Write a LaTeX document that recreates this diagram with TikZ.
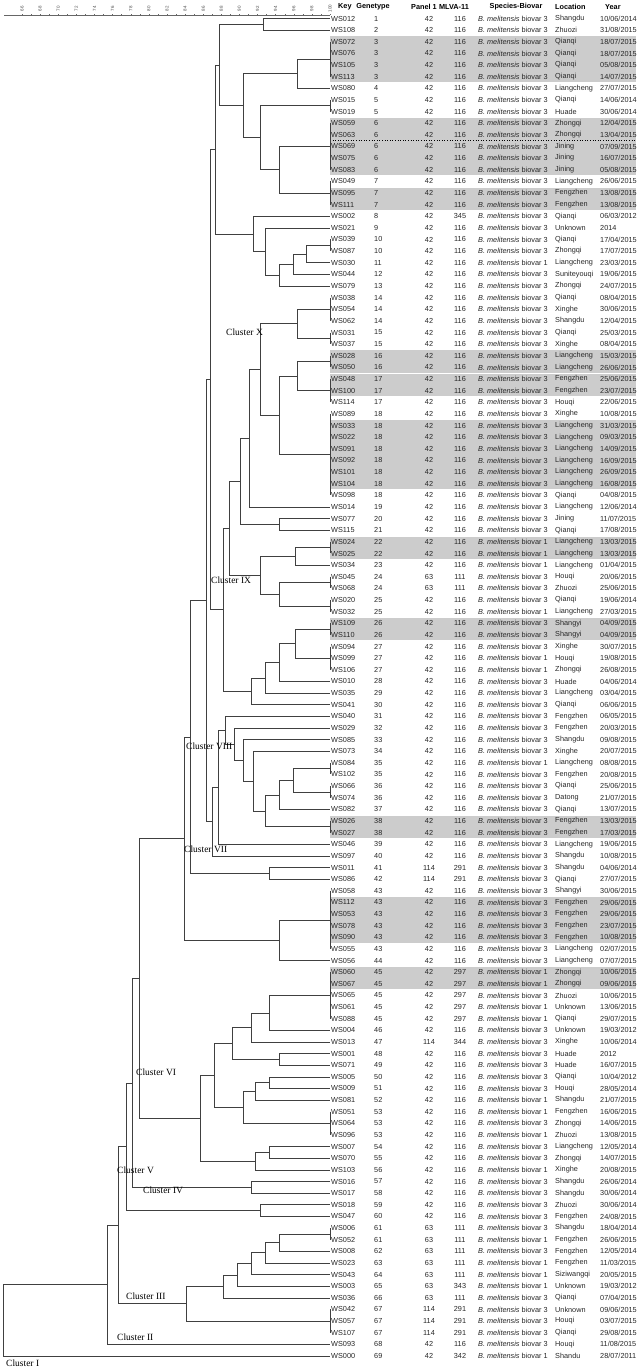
\documentclass[tikz,border=0pt]{standalone}
\usepackage{fontspec}
\setmainfont{Liberation Serif}
\newfontfamily\tabfont{Liberation Sans}
\tikzset{
 tx/.style={font=\tabfont\fontsize{7.3}{8}\selectfont, inner sep=0pt, text=black!85},
 hd/.style={font=\tabfont\bfseries\fontsize{7.3}{8}\selectfont, inner sep=0pt},
 tree/.style={draw=black!75, line width=0.6pt},
 clab/.style={font=\fontsize{9.5}{10}\selectfont, inner sep=0pt, anchor=west},
 shadebox/.style={fill=black!20},
 axisline/.style={draw=black!60, line width=0.4pt},
 axlab/.style={font=\tabfont\fontsize{4.5}{5}\selectfont, inner sep=0pt, rotate=90, text=black!70},
}
\newcommand\RY[1]{6.87+11.63*#1}
\newcommand\trow[8]{%
  \node[tx,anchor=west] (k#1) at (331,{\RY{#1}}) {#2};
  \node[tx,anchor=west] (g#1) at (374,{\RY{#1}}) {#3};
  \node[tx] (p#1) at (429,{\RY{#1}}) {#4};
  \node[tx] (m#1) at (460,{\RY{#1}}) {#5};
  \node[tx,anchor=west] (s#1) at (478,{\RY{#1}}) {\textit{B. melitensis} biovar #6};
  \node[tx,anchor=west] (l#1) at (555,{\RY{#1}}) {#7};
  \node[tx,anchor=west] (y#1) at (600,{\RY{#1}}) {#8};}
\newcommand\shd[2]{\fill[shadebox] (330,{6.87+11.63*(#1-0.5)+0.5}) rectangle (636,{6.87+11.63*(#2+0.5)-0.5});}
\newcommand\J[5]{\draw[tree] (#2,{\RY{#3}}) -- (#1,{\RY{#3}}) -- (#1,{\RY{#5}}) -- (#4,{\RY{#5}});}
\newcommand\G[2]{\draw[tree] (355,{\RY{#1}}) -- (355,{\RY{#2}});}
\begin{document}
\begin{tikzpicture}[x=1pt,y=-1pt]
\useasboundingbox (0,0) rectangle (638,1368);
% shading
\shd{3}{6}\shd{10}{14}\shd{16}{17}\shd{30}{31}\shd{32}{33}\shd{36}{41}
\shd{46}{47}\shd{53}{54}\shd{70}{71}\shd{77}{80}\shd{83}{84}
\draw[dotted, line width=0.6pt] (330,{\RY{11.5}}) -- (636,{\RY{11.5}});
% axis
\draw[axisline] (4,15) -- (330,15);
\foreach \s in {66,...,100} \draw[axisline] ({22+(\s-66)*9.06},15) -- ++(0,-1.5);
\foreach \s in {66,68,...,100} \node[axlab] at ({22+(\s-66)*9.06},8.5) {\s};
% header
\node[hd,anchor=west] (hk) at (338,7) {Key};
\node[hd] (hg) at (373,7) {Genetype};
\node[hd] (hp) at (424,7) {Panel 1};
\node[hd] (hm) at (454,7) {MLVA-11};
\node[hd] (hs) at (516,7) {Species-Biovar};
\node[hd,anchor=west] (hl) at (555,7) {Location};
\node[hd,anchor=west] (hy) at (605,7) {Year};
% table
\trow{1}{WS012}{1}{42}{116}{3}{Shangdu}{10/06/2014}
\trow{2}{WS108}{2}{42}{116}{3}{Zhuozi}{31/08/2015}
\trow{3}{WS072}{3}{42}{116}{3}{Qianqi}{18/07/2015}
\trow{4}{WS076}{3}{42}{116}{3}{Qianqi}{18/07/2015}
\trow{5}{WS105}{3}{42}{116}{3}{Qianqi}{05/08/2015}
\trow{6}{WS113}{3}{42}{116}{3}{Qianqi}{14/07/2015}
\trow{7}{WS080}{4}{42}{116}{3}{Liangcheng}{27/07/2015}
\trow{8}{WS015}{5}{42}{116}{3}{Qianqi}{14/06/2014}
\trow{9}{WS019}{5}{42}{116}{3}{Huade}{30/06/2014}
\trow{10}{WS059}{6}{42}{116}{3}{Zhongqi}{12/04/2015}
\trow{11}{WS063}{6}{42}{116}{3}{Zhongqi}{13/04/2015}
\trow{12}{WS069}{6}{42}{116}{3}{Jining}{07/09/2015}
\trow{13}{WS075}{6}{42}{116}{3}{Jining}{16/07/2015}
\trow{14}{WS083}{6}{42}{116}{3}{Jining}{05/08/2015}
\trow{15}{WS049}{7}{42}{116}{3}{Liangcheng}{26/06/2015}
\trow{16}{WS095}{7}{42}{116}{3}{Fengzhen}{13/08/2015}
\trow{17}{WS111}{7}{42}{116}{3}{Fengzhen}{13/08/2015}
\trow{18}{WS002}{8}{42}{345}{3}{Qianqi}{06/03/2012}
\trow{19}{WS021}{9}{42}{116}{3}{Unknown}{2014}
\trow{20}{WS039}{10}{42}{116}{3}{Qianqi}{17/04/2015}
\trow{21}{WS087}{10}{42}{116}{3}{Zhongqi}{17/07/2015}
\trow{22}{WS030}{11}{42}{116}{1}{Liangcheng}{23/03/2015}
\trow{23}{WS044}{12}{42}{116}{3}{Suniteyouqi}{19/06/2015}
\trow{24}{WS079}{13}{42}{116}{3}{Zhongqi}{24/07/2015}
\trow{25}{WS038}{14}{42}{116}{3}{Qianqi}{08/04/2015}
\trow{26}{WS054}{14}{42}{116}{3}{Xinghe}{30/06/2015}
\trow{27}{WS062}{14}{42}{116}{3}{Shangdu}{12/04/2015}
\trow{28}{WS031}{15}{42}{116}{3}{Qianqi}{25/03/2015}
\trow{29}{WS037}{15}{42}{116}{3}{Xinghe}{08/04/2015}
\trow{30}{WS028}{16}{42}{116}{3}{Liangcheng}{15/03/2015}
\trow{31}{WS050}{16}{42}{116}{3}{Liangcheng}{26/06/2015}
\trow{32}{WS048}{17}{42}{116}{3}{Fengzhen}{25/06/2015}
\trow{33}{WS100}{17}{42}{116}{3}{Fengzhen}{23/07/2015}
\trow{34}{WS114}{17}{42}{116}{3}{Houqi}{22/06/2015}
\trow{35}{WS089}{18}{42}{116}{3}{Xinghe}{10/08/2015}
\trow{36}{WS033}{18}{42}{116}{3}{Liangcheng}{31/03/2015}
\trow{37}{WS022}{18}{42}{116}{3}{Liangcheng}{09/03/2015}
\trow{38}{WS091}{18}{42}{116}{3}{Liangcheng}{14/09/2015}
\trow{39}{WS092}{18}{42}{116}{3}{Liangcheng}{16/09/2015}
\trow{40}{WS101}{18}{42}{116}{3}{Liangcheng}{26/09/2015}
\trow{41}{WS104}{18}{42}{116}{3}{Liangcheng}{16/08/2015}
\trow{42}{WS098}{18}{42}{116}{3}{Qianqi}{04/08/2015}
\trow{43}{WS014}{19}{42}{116}{3}{Liangcheng}{12/06/2014}
\trow{44}{WS077}{20}{42}{116}{3}{Jining}{11/07/2015}
\trow{45}{WS115}{21}{42}{116}{3}{Qianqi}{17/08/2015}
\trow{46}{WS024}{22}{42}{116}{1}{Liangcheng}{13/03/2015}
\trow{47}{WS025}{22}{42}{116}{1}{Liangcheng}{13/03/2015}
\trow{48}{WS034}{23}{42}{116}{1}{Liangcheng}{01/04/2015}
\trow{49}{WS045}{24}{63}{111}{3}{Houqi}{20/06/2015}
\trow{50}{WS068}{24}{63}{111}{3}{Zhuozi}{25/06/2015}
\trow{51}{WS020}{25}{42}{116}{3}{Qianqi}{19/06/2014}
\trow{52}{WS032}{25}{42}{116}{1}{Liangcheng}{27/03/2015}
\trow{53}{WS109}{26}{42}{116}{3}{Shangyi}{04/09/2015}
\trow{54}{WS110}{26}{42}{116}{3}{Shangyi}{04/09/2015}
\trow{55}{WS094}{27}{42}{116}{3}{Xinghe}{30/07/2015}
\trow{56}{WS099}{27}{42}{116}{1}{Houqi}{19/08/2015}
\trow{57}{WS106}{27}{42}{116}{1}{Zhongqi}{26/08/2015}
\trow{58}{WS010}{28}{42}{116}{3}{Huade}{04/06/2014}
\trow{59}{WS035}{29}{42}{116}{3}{Liangcheng}{03/04/2015}
\trow{60}{WS041}{30}{42}{116}{3}{Qianqi}{06/06/2015}
\trow{61}{WS040}{31}{42}{116}{3}{Fengzhen}{06/05/2015}
\trow{62}{WS029}{32}{42}{116}{3}{Fengzhen}{20/03/2015}
\trow{63}{WS085}{33}{42}{116}{3}{Shangdu}{09/08/2015}
\trow{64}{WS073}{34}{42}{116}{3}{Xinghe}{20/07/2015}
\trow{65}{WS084}{35}{42}{116}{1}{Liangcheng}{08/08/2015}
\trow{66}{WS102}{35}{42}{116}{3}{Fengzhen}{20/08/2015}
\trow{67}{WS066}{36}{42}{116}{3}{Qianqi}{25/06/2015}
\trow{68}{WS074}{36}{42}{116}{3}{Datong}{21/07/2015}
\trow{69}{WS082}{37}{42}{116}{3}{Qianqi}{13/07/2015}
\trow{70}{WS026}{38}{42}{116}{3}{Fengzhen}{13/03/2015}
\trow{71}{WS027}{38}{42}{116}{3}{Fengzhen}{17/03/2015}
\trow{72}{WS046}{39}{42}{116}{3}{Liangcheng}{19/06/2015}
\trow{73}{WS097}{40}{42}{116}{3}{Shangdu}{10/08/2015}
\trow{74}{WS011}{41}{114}{291}{3}{Shangdu}{04/06/2014}
\trow{75}{WS086}{42}{114}{291}{3}{Qianqi}{27/07/2015}
\trow{76}{WS058}{43}{42}{116}{3}{Shangyi}{30/06/2015}
\trow{77}{WS112}{43}{42}{116}{3}{Fengzhen}{29/06/2015}
\trow{78}{WS053}{43}{42}{116}{3}{Fengzhen}{29/06/2015}
\trow{79}{WS078}{43}{42}{116}{3}{Fengzhen}{23/07/2015}
\trow{80}{WS090}{43}{42}{116}{3}{Fengzhen}{10/08/2015}
\trow{81}{WS055}{43}{42}{116}{3}{Liangcheng}{02/07/2015}
\trow{82}{WS056}{44}{42}{116}{3}{Liangcheng}{07/07/2015}
\trow{83}{WS060}{45}{42}{297}{1}{Zhongqi}{10/06/2015}
\trow{84}{WS067}{45}{42}{297}{1}{Zhongqi}{09/06/2015}
\trow{85}{WS065}{45}{42}{297}{3}{Zhuozi}{10/06/2015}
\trow{86}{WS061}{45}{42}{297}{1}{Unknown}{13/06/2015}
\trow{87}{WS088}{45}{42}{297}{1}{Qianqi}{29/07/2015}
\trow{88}{WS004}{46}{42}{116}{3}{Unknown}{19/03/2012}
\trow{89}{WS013}{47}{114}{344}{3}{Xinghe}{10/06/2014}
\trow{90}{WS001}{48}{42}{116}{3}{Huade}{2012}
\trow{91}{WS071}{49}{42}{116}{3}{Huade}{16/07/2015}
\trow{92}{WS005}{50}{42}{116}{3}{Qianqi}{10/04/2012}
\trow{93}{WS009}{51}{42}{116}{3}{Houqi}{28/05/2014}
\trow{94}{WS081}{52}{42}{116}{1}{Shangdu}{21/07/2015}
\trow{95}{WS051}{53}{42}{116}{1}{Fengzhen}{16/06/2015}
\trow{96}{WS064}{53}{42}{116}{3}{Zhongqi}{14/06/2015}
\trow{97}{WS096}{53}{42}{116}{1}{Zhuozi}{13/08/2015}
\trow{98}{WS007}{54}{42}{116}{3}{Liangcheng}{12/05/2014}
\trow{99}{WS070}{55}{42}{116}{3}{Zhongqi}{14/07/2015}
\trow{100}{WS103}{56}{42}{116}{1}{Xinghe}{20/08/2015}
\trow{101}{WS016}{57}{42}{116}{3}{Shangdu}{26/06/2014}
\trow{102}{WS017}{58}{42}{116}{3}{Shangdu}{30/06/2014}
\trow{103}{WS018}{59}{42}{116}{3}{Zhuozi}{30/06/2014}
\trow{104}{WS047}{60}{42}{116}{3}{Fengzhen}{24/08/2015}
\trow{105}{WS006}{61}{63}{111}{3}{Shangdu}{18/04/2014}
\trow{106}{WS052}{61}{63}{111}{1}{Fengzhen}{26/06/2015}
\trow{107}{WS008}{62}{63}{111}{3}{Fengzhen}{12/05/2014}
\trow{108}{WS023}{63}{63}{111}{1}{Fengzhen}{11/03/2015}
\trow{109}{WS043}{64}{63}{111}{1}{Siziwangqi}{20/05/2015}
\trow{110}{WS003}{65}{63}{343}{1}{Unknown}{19/03/2012}
\trow{111}{WS036}{66}{63}{111}{3}{Qianqi}{07/04/2015}
\trow{112}{WS042}{67}{114}{291}{3}{Unknown}{09/06/2015}
\trow{113}{WS057}{67}{114}{291}{3}{Houqi}{03/07/2015}
\trow{114}{WS107}{67}{114}{291}{3}{Qianqi}{29/08/2015}
\trow{115}{WS093}{68}{42}{116}{3}{Houqi}{11/08/2015}
\trow{116}{WS000}{69}{42}{342}{1}{Shandu}{28/07/2011}
% ---------- dendrogram ----------
\begin{scope}[xscale=0.9276, xshift=0.665pt]
\J{283}{355}{1}{355}{2}
\G{3}{6}
\J{320}{355}{4.5}{355}{7}
\G{8}{9}\G{10}{14}\G{15}{17}
\J{300}{355}{12}{355}{16}
\J{280}{355}{8.5}{300}{14}
\J{262}{320}{5.75}{280}{11.25}
\J{236}{283}{1.5}{262}{8.5}
\G{20}{21}
\J{330}{355}{20.5}{355}{22}
\J{315}{330}{21.25}{355}{23}
\J{300}{315}{22.125}{355}{24}
\J{285}{355}{19}{300}{23.0625}
\J{272}{355}{18}{285}{21.03125}
\J{231}{236}{5}{272}{19.515625}
\G{25}{27}\G{28}{29}
\J{320}{355}{26}{355}{28.5}
\G{30}{31}\G{32}{34}
\J{320}{355}{30.5}{355}{33}
\G{35}{42}
\J{300}{320}{31.75}{355}{38.5}
\J{280}{320}{27.25}{300}{35.125}
\J{268}{280}{31.1875}{355}{43}
\J{300}{355}{44}{355}{45}
\J{258}{268}{37.09}{300}{44.5}
\G{46}{47}
\J{318}{355}{46.5}{355}{48}
\G{49}{50}\G{51}{52}
\J{300}{355}{49.5}{355}{51.5}
\J{280}{318}{47.25}{300}{50.5}
\J{246}{258}{40.8}{280}{48.875}
\G{53}{54}\G{55}{57}
\J{318}{355}{53.5}{355}{56}
\J{300}{318}{54.75}{355}{58}
\J{285}{300}{56.375}{355}{59}
\J{270}{285}{57.69}{355}{60}
\J{240}{246}{44.84}{270}{58.84}
\J{226}{231}{12.26}{240}{51.84}
\G{65}{66}\G{67}{68}
\J{315}{355}{65.5}{355}{67.5}
\J{300}{315}{66.5}{355}{69}
\G{70}{71}
\J{285}{300}{67.75}{355}{70.5}
\J{272}{355}{64}{285}{69.125}
\J{262}{355}{63}{272}{66.5625}
\J{252}{355}{62}{262}{64.78}
\J{242}{355}{61}{252}{63.39}
\J{235}{242}{62.195}{355}{72}
\J{228}{235}{67.1}{355}{73}
\J{222}{226}{32.05}{228}{70.05}
\J{290}{355}{74}{355}{75}
\J{205}{222}{51.05}{290}{74.5}
\G{76}{81}
\J{300}{355}{78.5}{355}{82}
\J{198}{205}{62.78}{300}{80.25}
\G{83}{87}
\J{290}{355}{85}{355}{88}
\J{270}{290}{86.5}{355}{89}
\J{300}{355}{90}{355}{91}
\J{250}{270}{87.75}{300}{90.5}
\J{290}{355}{92}{355}{93}
\J{275}{290}{92.5}{355}{94}
\G{95}{97}
\J{262}{275}{93.25}{355}{96}
\J{230}{250}{89.125}{262}{94.625}
\J{290}{355}{98}{355}{99}
\J{275}{290}{98.5}{355}{100}
\J{215}{230}{91.875}{275}{99.25}
\J{150}{198}{71.51}{215}{95.5625}
\J{270}{355}{101}{355}{102}
\J{142}{150}{83.54}{270}{101.5}
\J{280}{355}{103}{355}{104}
\J{135}{142}{92.52}{280}{103.5}
\G{105}{106}
\J{300}{355}{105.5}{355}{107}
\J{285}{300}{106.25}{355}{108}
\J{270}{285}{107.125}{355}{109}
\J{255}{270}{108.06}{355}{110}
\J{240}{255}{109.03}{355}{111}
\G{112}{114}
\J{200}{240}{110.02}{355}{113}
\J{127}{135}{98.01}{200}{111.51}
\J{115}{127}{104.76}{355}{115}
\J{3}{115}{109.88}{355}{116}
\end{scope}
% cluster labels
\node[clab] (cX) at (226,332) {Cluster X};
\node[clab] (cIX) at (211,580) {Cluster IX};
\node[clab] (cVIII) at (186,746) {Cluster VIII};
\node[clab] (cVII) at (184,849) {Cluster VII};
\node[clab] (cVI) at (136,1072) {Cluster VI};
\node[clab] (cV) at (117,1170) {Cluster V};
\node[clab] (cIV) at (143,1190) {Cluster IV};
\node[clab] (cIII) at (126,1296) {Cluster III};
\node[clab] (cII) at (117,1337) {Cluster II};
\node[clab] (cI) at (6,1363) {Cluster I};
\end{tikzpicture}
\end{document}
